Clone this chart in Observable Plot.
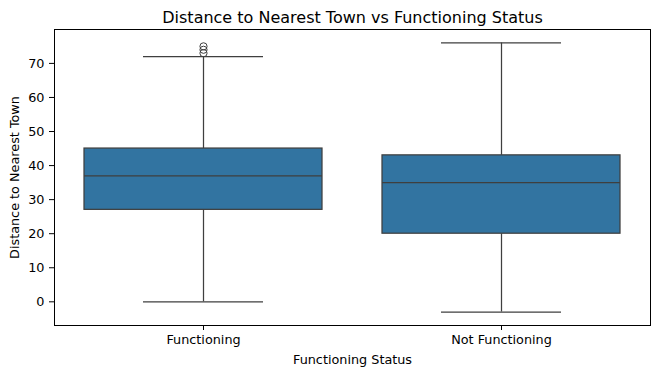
<!DOCTYPE html>
<html><head><meta charset="utf-8">
<script src="https://cdn.jsdelivr.net/npm/d3@7"></script>
<script src="https://cdn.jsdelivr.net/npm/@observablehq/plot@0.6"></script>
<style>body{margin:0;background:#fff}</style>
</head><body><div id="chart"></div>
<script>
const categories = ["Functioning", "Not Functioning"];
const q1 = [27, 20];
const median = [37, 35];
const q3 = [45, 43];
const whiskerLow = [0, -3];
const whiskerHigh = [72, 76];
const outlierCategory = ["Functioning", "Functioning", "Functioning"];
const outlierValues = [73, 74, 75];
const yTicks = [0, 10, 20, 30, 40, 50, 60, 70];
const title = "Distance to Nearest Town vs Functioning Status";

const boxes = categories.map((c, i) => ({cat: c, q1: q1[i], med: median[i], q3: q3[i], lo: whiskerLow[i], hi: whiskerHigh[i]}));
const outliers = outlierValues.map((v, i) => ({cat: outlierCategory[i], v}));
const line = "#3f3f3f";
const lw = 1.25;

const chart = Plot.plot({
  width: 659, height: 375,
  marginLeft: 54, marginRight: 9, marginTop: 29, marginBottom: 50,
  style: {fontFamily: "'DejaVu Sans', sans-serif", fontSize: "12.8px", color: "#000", background: "#fff"},
  x: {domain: categories, padding: 0, label: "Functioning Status", labelAnchor: "center", labelArrow: "none", tickSize: 5, tickPadding: 4, labelOffset: 38},
  y: {domain: [-6.95, 79.95], ticks: yTicks, label: "Distance to Nearest Town", labelAnchor: "center", labelArrow: "none", tickSize: 5, tickPadding: 5, labelOffset: 45},
  marks: [
    Plot.ruleX(boxes, {x: "cat", y1: "lo", y2: "q1", stroke: line, strokeWidth: lw}),
    Plot.ruleX(boxes, {x: "cat", y1: "q3", y2: "hi", stroke: line, strokeWidth: lw}),
    Plot.tickY(boxes, {x: "cat", y: "lo", stroke: line, strokeWidth: lw, insetLeft: 89, insetRight: 89}),
    Plot.tickY(boxes, {x: "cat", y: "hi", stroke: line, strokeWidth: lw, insetLeft: 89, insetRight: 89}),
    Plot.barY(boxes, {x: "cat", y1: "q1", y2: "q3", fill: "#3274a1", stroke: line, strokeWidth: lw, insetLeft: 30, insetRight: 30}),
    Plot.tickY(boxes, {x: "cat", y: "med", stroke: line, strokeWidth: lw, insetLeft: 30, insetRight: 30}),
    Plot.dot(outliers, {x: "cat", y: "v", r: 3.6, stroke: line, strokeWidth: 1, fill: "none"}),
    Plot.frame({stroke: "black", strokeWidth: 1}),
    Plot.text([title], {frameAnchor: "top", lineAnchor: "bottom", dy: -7, fontSize: 16, fill: "black"})
  ]
});
document.getElementById("chart").appendChild(chart);
</script>
</body></html>
